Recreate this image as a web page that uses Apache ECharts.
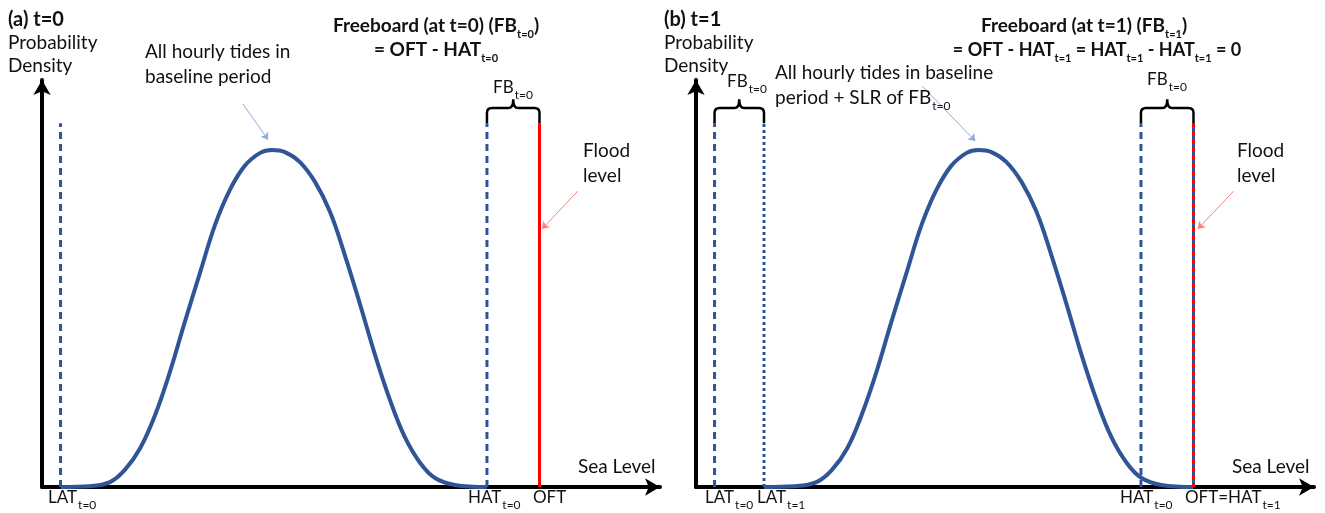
<!DOCTYPE html>
<html><head><meta charset="utf-8">
<script src="https://cdn.jsdelivr.net/npm/echarts@6/dist/echarts.min.js"></script>
<style>html,body{margin:0;padding:0;background:#fff}#c{width:1325px;height:513px}</style>
</head><body><div id="c"></div>
<script>
// ---- data (sea level units on x, probability density on y) ----
const curveA_x = [3, 7.8, 11.0, 13.4, 15.9, 18.3, 20.7, 23.1, 25.6, 28.0, 30.4, 32.8, 35.3, 37.2, 39.3, 41.7, 44.2, 46.6, 49.0, 51.5, 53.9, 56.3, 58.7, 61.2, 63.6, 66.8, 72];
const curveA_y = [0, 0.2, 1.2, 4.2, 9.6, 17.7, 28.3, 40.5, 52.8, 64.4, 73.0, 78.9, 82.1, 82.8, 82.3, 79.9, 74.9, 67.6, 57.0, 44.7, 32.4, 21.4, 12.3, 5.9, 2.2, 0.5, 0];
const curveB_x = [11, 16, 19.5, 22, 24.5, 26.8, 29.2, 31.6, 34.1, 36.5, 38.9, 41.3, 43.8, 45.7, 47.8, 50.2, 52.7, 55.1, 57.5, 60, 62.4, 64.8, 67.2, 69.7, 72.1, 75.3, 80.5];
const curveB_y = [0, 0.2, 1.2, 4.2, 9.6, 17.7, 28.3, 40.5, 52.8, 64.4, 73.0, 78.9, 82.1, 82.8, 82.3, 79.9, 74.9, 67.6, 57.0, 44.7, 32.4, 21.4, 12.3, 5.9, 2.2, 0.5, 0];
// level positions
const levelNamesA = ['LAT_t0', 'HAT_t0', 'OFT'];
const levelValuesA = [3, 72, 80.5];
const levelNamesB = ['LAT_t0', 'LAT_t1', 'HAT_t0', 'OFT=HAT_t1'];
const levelValuesB = [3, 11, 72, 80.5];
const lineTop = 89.4;           // top of the vertical level lines (density units)
const braceLevels = [89.4, 93.1, 95.3]; // brace foot, bar, tip

const FONT = 'Lato';
const chart = echarts.init(document.getElementById('c'), null, {renderer: 'canvas'});

const BLUE = '#2F5597';
function vline(xi, x, style, z) {
  return {type: 'line', xAxisIndex: xi, yAxisIndex: xi, data: [[x, 0], [x, lineTop]], showSymbol: false,
    symbol: 'none', lineStyle: style, z: z || 3, silent: true, animation: false};
}
const dashed = {color: BLUE, width: 3, type: [7, 5]};
const dotted = {color: BLUE, width: 3, type: [3, 3]};

function braceSeries(xi, pairs) {
  return {
    type: 'custom', xAxisIndex: xi, yAxisIndex: xi, animation: false, silent: true, z: 5,
    data: pairs.map(p => [p[0], p[1], braceLevels[0], braceLevels[1], braceLevels[2]]),
    encode: {x: [0, 1], y: [2, 3, 4]},
    renderItem: function (params, api) {
      const a = api.coord([api.value(0), api.value(2)]);
      const b = api.coord([api.value(1), api.value(2)]);
      const yh = api.coord([api.value(0), api.value(3)])[1];
      const yt = api.coord([api.value(0), api.value(4)])[1];
      const m = (a[0] + b[0]) / 2, r = 5;
      const d = 'M' + a[0] + ',' + a[1] + ' L' + a[0] + ',' + (yh + r) +
        ' Q' + a[0] + ',' + yh + ' ' + (a[0] + r) + ',' + yh +
        ' L' + (m - r) + ',' + yh + ' Q' + m + ',' + yh + ' ' + m + ',' + yt +
        ' Q' + m + ',' + yh + ' ' + (m + r) + ',' + yh +
        ' L' + (b[0] - r) + ',' + yh + ' Q' + b[0] + ',' + yh + ' ' + b[0] + ',' + (yh + r) +
        ' L' + b[0] + ',' + b[1];
      return {type: 'path', shape: {pathData: d}, style: {stroke: '#000', lineWidth: 2.5, fill: 'none'}};
    }
  };
}

function arrowSeries(xi, coords, color) {
  return {type: 'lines', coordinateSystem: 'cartesian2d', xAxisIndex: xi, yAxisIndex: xi, z: 6,
    symbol: ['none', 'arrow'], symbolSize: 7, silent: true, animation: false,
    lineStyle: {color: color, width: 1, opacity: 1},
    data: [{coords: coords}]};
}

const axisCommon = {
  axisLine: {show: true, onZero: false, lineStyle: {color: '#000', width: 4}, symbol: ['none', 'arrow'], symbolSize: [13, 15]},
  axisTick: {show: false}, axisLabel: {show: false}, splitLine: {show: false}
};

const rich = {
  n: {fontFamily: FONT, fontSize: 19, color: '#111', lineHeight: 24},
  m: {fontFamily: FONT, fontSize: 17, color: '#111', lineHeight: 22},
  s: {fontFamily: FONT, fontSize: 12, color: '#111', lineHeight: 13, verticalAlign: 'bottom', padding: [0, 0, -2, 1]},
  b: {fontFamily: FONT, fontSize: 19, fontWeight: 'bold', color: '#111', lineHeight: 24},
  b2: {fontFamily: FONT, fontSize: 18, fontWeight: 'bold', color: '#111', lineHeight: 24},
  bs: {fontFamily: FONT, fontSize: 11, fontWeight: 'bold', color: '#111', lineHeight: 13, verticalAlign: 'bottom', padding: [0, 0, -2, 0]},
  h: {fontFamily: FONT, fontSize: 20, fontWeight: 'bold', color: '#111', lineHeight: 24}
};
function txt(x, y, text, align) {
  return {type: 'text', x: x, y: y, silent: true, z: 10,
    style: {text: text, rich: rich, align: align || 'left', verticalAlign: 'middle', font: '19px ' + FONT, fill: '#111'}};
}

const graphics = [
  txt(8, 20, '{h|(a) t=0}'),
  txt(8, 43, '{n|Probability}'),
  txt(8, 66, '{n|Density}'),
  txt(436, 26, '{b|Freeboard (at t=0) (FB}{bs|t=0}{b|)}', 'center'),
  txt(436, 50, '{b|= OFT - HAT}{bs|t=0}', 'center'),
  txt(145, 52, '{n|All hourly tides in}'),
  txt(145, 77, '{n|baseline period}'),
  txt(513, 88, '{m|FB}{s|t=0}', 'center'),
  txt(583, 151, '{n|Flood}'),
  txt(583, 176, '{n|level}'),
  txt(578, 467, '{n|Sea Level}'),
  txt(48, 498, '{m|LAT}{s|t=0}'),
  txt(468, 498, '{m|HAT}{s|t=0}'),
  txt(533, 498, '{m|OFT}'),

  txt(664, 20, '{h|(b) t=1}'),
  txt(664, 43, '{n|Probability}'),
  txt(664, 66, '{n|Density}'),
  txt(1084, 26, '{b|Freeboard (at t=1) (FB}{bs|t=1}{b|)}', 'center'),
  txt(1097, 50, '{b2|= OFT - HAT}{bs|t=1}{b2| = HAT}{bs|t=1}{b2| - HAT}{bs|t=1}{b2| = 0}', 'center'),
  txt(747, 82, '{m|FB}{s|t=0}', 'center'),
  txt(775, 73, '{n|All hourly tides in baseline}'),
  txt(775, 98, '{n|period + SLR of FB}{s|t=0}'),
  txt(1167, 80, '{m|FB}{s|t=0}', 'center'),
  txt(1237, 151, '{n|Flood}'),
  txt(1237, 176, '{n|level}'),
  txt(1232, 467, '{n|Sea Level}'),
  txt(705, 498, '{m|LAT}{s|t=0}'),
  txt(757, 498, '{m|LAT}{s|t=1}'),
  txt(1120, 498, '{m|HAT}{s|t=0}'),
  txt(1185, 498, '{m|OFT=HAT}{s|t=1}')
];

const option = {
  backgroundColor: '#fff',
  animation: false,
  grid: [
    {left: 42, top: 80, width: 618, height: 407},
    {left: 696, top: 80, width: 618, height: 407}
  ],
  xAxis: [
    Object.assign({type: 'value', gridIndex: 0, min: 0, max: 100}, axisCommon),
    Object.assign({type: 'value', gridIndex: 1, min: 0, max: 100}, axisCommon)
  ],
  yAxis: [
    Object.assign({type: 'value', gridIndex: 0, min: 0, max: 100}, axisCommon),
    Object.assign({type: 'value', gridIndex: 1, min: 0, max: 100}, axisCommon)
  ],
  series: [
    {type: 'line', xAxisIndex: 0, yAxisIndex: 0, smooth: 0.4, showSymbol: false, symbol: 'none', z: 4,
      data: curveA_x.map((x, i) => [x, curveA_y[i]]), lineStyle: {color: BLUE, width: 4}},
    {type: 'line', xAxisIndex: 1, yAxisIndex: 1, smooth: 0.4, showSymbol: false, symbol: 'none', z: 4,
      data: curveB_x.map((x, i) => [x, curveB_y[i]]), lineStyle: {color: BLUE, width: 4}},
    vline(0, levelValuesA[0], dashed),
    vline(0, levelValuesA[1], dashed),
    vline(0, levelValuesA[2], {color: '#FF0000', width: 3}),
    vline(1, levelValuesB[0], dashed),
    vline(1, levelValuesB[1], dotted),
    vline(1, levelValuesB[2], dashed),
    vline(1, levelValuesB[3], {color: BLUE, width: 3}, 3),
    vline(1, levelValuesB[3], {color: '#FF0000', width: 3, type: [4, 4]}, 4),
    braceSeries(0, [[levelValuesA[1], levelValuesA[2]]]),
    braceSeries(1, [[levelValuesB[0], levelValuesB[1]], [levelValuesB[2], levelValuesB[3]]]),
    arrowSeries(0, [[32.5, 94.1], [36.6, 85.3]], '#8FAADC'),
    arrowSeries(1, [[36.6, 98.5], [45.2, 85.0]], '#8FAADC'),
    arrowSeries(0, [[86.7, 72.7], [80.9, 63.4]], '#FF7C80'),
    arrowSeries(1, [[87.0, 72.7], [81.2, 63.4]], '#FF7C80')
  ],
  graphic: graphics
};
chart.setOption(option);
</script></body></html>
